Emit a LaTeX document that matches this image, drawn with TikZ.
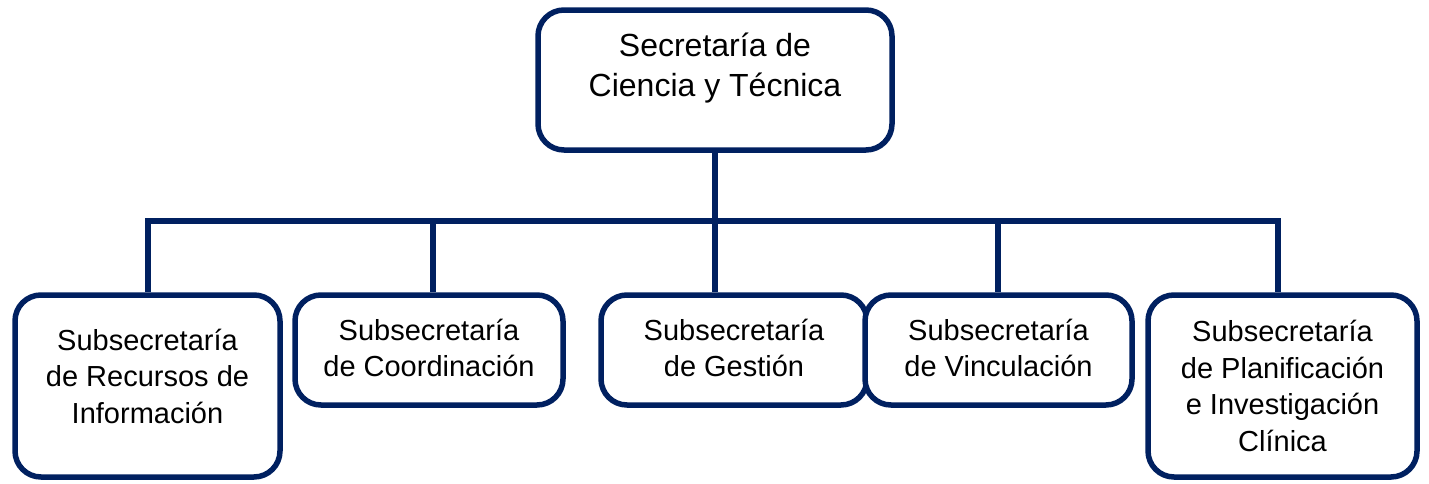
\documentclass[tikz,border=0pt]{standalone}
\usepackage{fontspec}
\setmainfont{Liberation Sans}
\usetikzlibrary{backgrounds}
\definecolor{navy}{RGB}{0,32,96}
\begin{document}
\begin{tikzpicture}[x=1pt,y=-1pt,
 box/.style={draw=navy, line width=5.5pt, rounded corners=26pt, fill=white, inner sep=0pt},
 conn/.style={draw=navy, line width=5.5pt},
 bigtxt/.style={font=\fontsize{32}{40}\selectfont, align=center, text=black},
 smalltxt/.style={font=\fontsize{29}{36.5}\selectfont, align=center, text=black}]
\useasboundingbox (0,0) rectangle (1429,483);
% boxes
\node[box, minimum width=354pt, minimum height=140pt] (top) at (715,80) {};
\node[box, minimum width=265pt, minimum height=182pt] (b1) at (147.5,386) {};
\node[box, minimum width=268pt, minimum height=110pt] (b2) at (429,350) {};
\node[box, minimum width=266pt, minimum height=110pt] (b3) at (734,350) {};
\node[box, minimum width=267pt, minimum height=110pt] (b4) at (998.5,350) {};
\node[box, minimum width=269pt, minimum height=182pt] (b5) at (1282.5,386) {};
% texts
\node[bigtxt] (t0) at (top.center) [yshift=12pt] {Secretaría de\\Ciencia y Técnica};
\node[smalltxt] (t1) at (b1.center) [yshift=10pt] {Subsecretaría\\de Recursos de\\Información};
\node[smalltxt] (t2) at (b2.center) [yshift=2pt] {Subsecretaría\\de Coordinación};
\node[smalltxt] (t3) at (b3.center) [yshift=2pt] {Subsecretaría\\de Gestión};
\node[smalltxt] (t4) at (b4.center) [yshift=2pt] {Subsecretaría\\de Vinculación};
\node[smalltxt] (t5) at (b5.center) {Subsecretaría\\de Planificación\\e Investigación\\Clínica};
% connectors
\coordinate (d1) at (148,221);
\coordinate (d2) at (433,221);
\coordinate (d3) at (715,221);
\coordinate (d4) at (998,221);
\coordinate (d5) at (1278,221);
\begin{scope}[on background layer]
\draw[conn] (d1 |- b1.north) -- (d1) -- (d5) -- (d5 |- b5.north);
\draw[conn] (d2) -- (d2 |- b2.north);
\draw[conn] (top.south) -- (top.south |- b3.north);
\draw[conn] (d4) -- (d4 |- b4.north);
\end{scope}
\end{tikzpicture}
\end{document}
